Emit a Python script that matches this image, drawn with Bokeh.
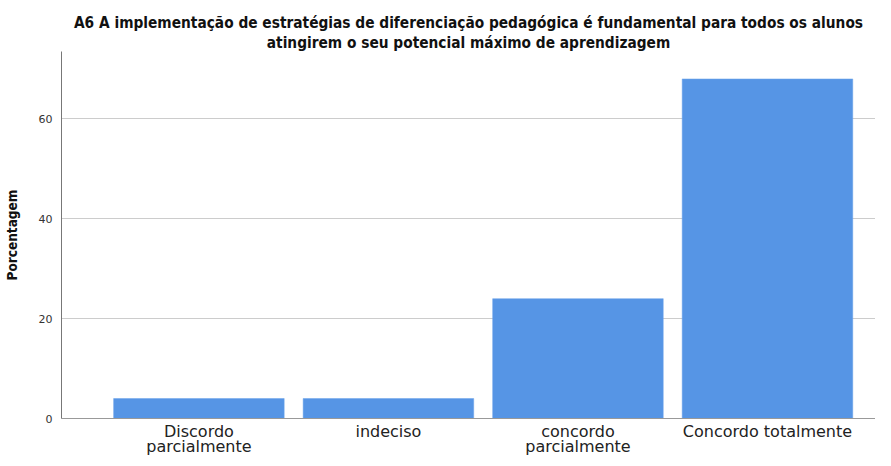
from bokeh.plotting import figure
from bokeh.models import Range1d, FixedTicker, Title
from bokeh.embed import file_html
from bokeh.resources import INLINE

title_lines = ["A6 A implementação de estratégias de diferenciação pedagógica é fundamental para todos os alunos",
               "atingirem o seu potencial máximo de aprendizagem"]
categories = ["Discordo\nparcialmente", "indeciso", "concordo\nparcialmente", "Concordo totalmente"]
values = [4, 4, 24, 68]
y_ticks = [0, 20, 40, 60]

xs = list(range(len(categories)))

p = figure(width=875, height=458, output_backend="svg", toolbar_location=None,
           x_range=Range1d(-0.725, 3.57), y_range=Range1d(0, 73.5),
           min_border_left=54, min_border_right=0, min_border_top=51, min_border_bottom=0)

def style_title(t):
    t.align = "center"
    t.text_font = "DejaVu Sans Condensed"
    t.text_font_size = "15.3px"
    t.text_font_style = "bold"
    t.text_color = "#111111"
    t.offset = 0
    t.standoff = 0

p.title.text = title_lines[0]
style_title(p.title)
t2 = Title(text=title_lines[1])
style_title(t2)
p.add_layout(t2, "above")

p.vbar(x=xs, top=values, width=0.9, fill_color="#5695e5", line_color="#6aa3ea", line_width=0.5)

p.xaxis.ticker = FixedTicker(ticks=xs)
p.xaxis.major_label_overrides = {i: c for i, c in zip(xs, categories)}
p.xaxis.major_tick_line_color = None
p.xaxis.minor_tick_line_color = None
p.xaxis.major_tick_out = 0
p.xaxis.axis_line_color = "#999999"
p.xaxis.major_label_text_font = "DejaVu Sans"
p.xaxis.major_label_text_font_size = "16px"
p.xaxis.major_label_text_color = "#222222"
p.xaxis.major_label_text_line_height = 0.8
p.xaxis.major_label_standoff = 3

p.yaxis.ticker = FixedTicker(ticks=y_ticks)
p.yaxis.major_tick_line_color = None
p.yaxis.minor_tick_line_color = None
p.yaxis.major_tick_out = 0
p.yaxis.axis_line_color = "#777777"
p.yaxis.major_label_text_font = "DejaVu Sans"
p.yaxis.major_label_text_font_size = "11px"
p.yaxis.major_label_text_color = "#333333"
p.yaxis.major_label_standoff = 9
p.yaxis.axis_label = "Porcentagem"
p.yaxis.axis_label_text_font = "DejaVu Sans Condensed"
p.yaxis.axis_label_text_font_size = "13.5px"
p.yaxis.axis_label_text_font_style = "bold"
p.yaxis.axis_label_text_color = "#111111"
p.yaxis.axis_label_standoff = 16

p.xgrid.grid_line_color = None
p.ygrid.grid_line_color = "#cccccc"
p.ygrid.grid_line_width = 1
p.outline_line_color = None

open("out.html", "w").write(file_html(p, INLINE))
